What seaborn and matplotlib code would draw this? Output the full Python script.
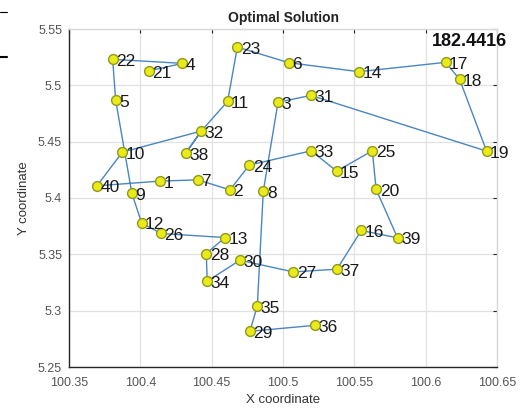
import matplotlib
matplotlib.use("Agg")
import matplotlib.pyplot as plt
import seaborn as sns
import pandas as pd
from matplotlib.lines import Line2D

# City coordinates (id 1..40)
city_ids = list(range(1, 41))
x_coords = [100.4136, 100.4628, 100.4965, 100.4294, 100.3827, 100.5040, 100.4404, 100.4862,
            100.3941, 100.3874, 100.4612, 100.4009, 100.4593, 100.5532, 100.5376, 100.5549,
            100.6140, 100.6238, 100.6427, 100.5653, 100.4058, 100.3806, 100.4680, 100.4764,
            100.5626, 100.4145, 100.5072, 100.4462, 100.4768, 100.4698, 100.5196, 100.4427,
            100.5198, 100.4469, 100.4820, 100.5226, 100.5378, 100.4318, 100.5803, 100.3696]
y_coords = [5.4150, 5.4072, 5.4849, 5.5195, 5.4869, 5.5201, 5.4161, 5.4061,
            5.4040, 5.4407, 5.4858, 5.3779, 5.3649, 5.5121, 5.4238, 5.3712,
            5.5204, 5.5053, 5.4416, 5.4076, 5.5127, 5.5231, 5.5340, 5.4292,
            5.4419, 5.3685, 5.3344, 5.3507, 5.2817, 5.3448, 5.4911, 5.4594,
            5.4419, 5.3261, 5.3042, 5.2870, 5.3368, 5.4398, 5.3646, 5.4108]

# Visiting order of the route
route = [21, 4, 22, 5, 9, 12, 26, 13, 28, 34, 30, 27, 37, 16, 39, 20, 25, 15, 33, 24,
         2, 7, 1, 40, 10, 32, 38, 32, 11, 23, 6, 14, 17, 18, 19, 31, 3, 8, 35, 29, 36]

total_distance = "182.4416"
x_ticks = [100.35, 100.4, 100.45, 100.5, 100.55, 100.6, 100.65]
x_tick_labels = ["100.35", "100.4", "100.45", "100.5", "100.55", "100.6", "100.65"]
y_ticks = [5.25, 5.3, 5.35, 5.4, 5.45, 5.5, 5.55]
y_tick_labels = ["5.25", "5.3", "5.35", "5.4", "5.45", "5.5", "5.55"]

sns.set_style("white")
plt.rcParams['font.family'] = ['Liberation Sans', 'DejaVu Sans']

cities = pd.DataFrame({"id": city_ids, "x": x_coords, "y": y_coords})
path = pd.DataFrame({
    "x": [x_coords[c - 1] for c in route],
    "y": [y_coords[c - 1] for c in route],
    "step": range(len(route)),
})

fig = plt.figure(figsize=(5.26, 4.08), dpi=100)
ax = fig.add_axes([69 / 526, 1 - 367 / 408, (497 - 69) / 526, (367 - 29) / 408])

sns.lineplot(data=path, x="x", y="y", sort=False, estimator=None, ax=ax,
             color="#4a86c0", linewidth=1.0, zorder=2)
sns.scatterplot(data=cities, x="x", y="y", ax=ax, s=50, color="#eaea1a",
                edgecolor="#8f9a1a", linewidth=1.0, zorder=3)

for cid, cx, cy in zip(city_ids, x_coords, y_coords):
    ax.annotate(str(cid), (cx, cy), xytext=(2.5, -1.5), textcoords="offset points",
                ha="left", va="center", fontsize=12.5, color="#1a1a1a", zorder=4)

ax.set_xlim(100.35, 100.65)
ax.set_ylim(5.25, 5.55)
ax.set_xticks(x_ticks)
ax.set_xticklabels(x_tick_labels)
ax.set_yticks(y_ticks)
ax.set_yticklabels(y_tick_labels)
ax.grid(True, color="#e2e2e2", linewidth=0.9)
ax.set_axisbelow(True)
ax.tick_params(direction="in", length=3, labelsize=9, colors="#262626",
               labelcolor="#555555", top=True, right=True)
ax.tick_params(axis="x", pad=7)
ax.tick_params(axis="y", pad=5)
for side in ["left", "bottom"]:
    ax.spines[side].set_color("#262626")
    ax.spines[side].set_linewidth(1.0)
for side in ["top", "right"]:
    ax.spines[side].set_color("#d8d8d8")
    ax.spines[side].set_linewidth(1.0)

ax.set_xlabel("X coordinate", fontsize=9.5, color="#333333", labelpad=4)
ax.set_ylabel("Y coordinate", fontsize=9.5, color="#333333", labelpad=6)
ax.set_title("Optimal Solution", fontsize=10, fontweight="bold", color="#222222", pad=5)

ax.text(0.848, 0.963, total_distance, transform=ax.transAxes, fontsize=13,
        fontweight="bold", color="#111111", ha="left", va="center", clip_on=False)

# small edge marks at top-left of the original figure
fig.add_artist(Line2D([0, 7 / 526], [1 - 12 / 408, 1 - 12 / 408], color="black", linewidth=0.8))
fig.add_artist(Line2D([0, 7 / 526], [1 - 57 / 408, 1 - 57 / 408], color="black", linewidth=1.5))

fig.savefig("out.png", dpi=100)
